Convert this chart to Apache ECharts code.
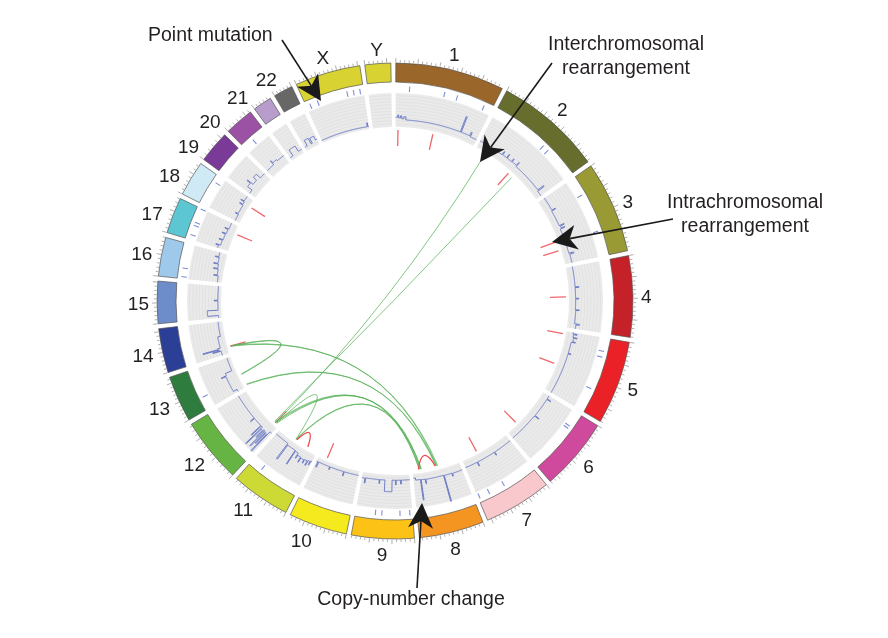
<!DOCTYPE html>
<html><head><meta charset="utf-8">
<script src="https://cdn.jsdelivr.net/npm/echarts@6/dist/echarts.min.js"></script>
<style>html,body{margin:0;padding:0;background:#fff}#c{width:888px;height:638px}</style>
</head><body><div id="c"></div>
<script>
// ---------------- DATA ----------------
const chromNames = ['1','2','3','4','5','6','7','8','9','10','11','12','13','14','15','16','17','18','19','20','21','22','X','Y'];
const chromLengthsMb = [249.25,243.2,198.0,191.15,180.9,171.1,159.1,146.4,141.2,135.5,135.0,133.85,115.2,107.35,102.5,90.35,81.2,78.1,59.1,63.0,48.1,51.3,155.3,59.4];

// copy-number segments: [chromosome, startMb, endMb, copy number]
const cnSegments = [
['1',0,6,2.4],['1',6,9,2.7],['1',9,14,2.3],['1',14,18,2.6],['1',18,24,2.2],['1',24,30,2.5],['1',30,196,2.05],['1',196,199,4.4],['1',199,226,2.05],['1',226,229,2.6],['1',229,249.25,1.95],
['2',0,76,2.05],['2',76,78,2.6],['2',78,92,2.1],['2',92,94,2.7],['2',94,110,2.1],['2',110,112,2.6],['2',112,128,2.15],['2',128,130,2.7],['2',130,224,2.0],['2',224,227,3.0],['2',227,243.2,1.85],
['3',0,40,2.05],['3',40,42,2.6],['3',42,88,1.95],['3',88,90,2.7],['3',90,96,2.1],['3',96,98,2.6],['3',98,170,1.9],['3',170,173,2.6],['3',173,198,2.0],
['4',0,63,1.95],['4',63,65,2.5],['4',65,98,1.95],['4',98,100,2.4],['4',100,133,1.95],['4',133,135,2.5],['4',135,176,2.0],['4',176,179,2.7],['4',179,191.15,2.2],
['5',0,4,2.0],['5',4,6,2.6],['5',6,14,2.1],['5',14,16,2.7],['5',16,26,2.2],['5',26,28,2.6],['5',28,60,2.0],['5',60,62,2.4],['5',62,180.9,2.0],
['6',0,11,2.0],['6',11,13,2.6],['6',13,74,2.0],['6',74,76,2.7],['6',76,78,2.1],['6',78,171.1,1.95],
['7',0,58,2.0],['7',58,60,2.5],['7',60,118,2.0],['7',118,120,2.6],['7',120,159.1,2.0],
['8',0,30,2.1],['8',30,32,2.5],['8',32,55,2.05],['8',55,57,5.85],['8',57,110,2.0],['8',110,112,2.6],['8',112,124,1.95],['8',124,126,4.85],['8',126,140,1.9],['8',140,146.4,1.6],
['9',0,25,1.75],['9',25,27,2.3],['9',27,40,1.75],['9',40,42,2.4],['9',42,52,1.75],['9',52,73,3.4],['9',73,88,1.75],['9',88,90,2.3],['9',90,130,1.75],['9',130,132,2.5],['9',132,141.2,1.8],
['10',0,45,1.6],['10',45,47,2.2],['10',47,90,1.6],['10',90,92,2.0],['10',92,128,1.6],['10',128,131,2.4],['10',131,135.5,1.6],
['11',0,4,2.0],['11',4,6,2.6],['11',6,12,2.1],['11',12,14,2.9],['11',14,22,2.2],['11',22,24,2.8],['11',24,34,2.3],['11',34,36,3.0],['11',36,46,2.2],['11',46,48,2.7],['11',48,58,1.9],['11',58,60,4.1],['11',60,87,1.8],['11',87,90,4.3],['11',90,135,1.6],
['12',0,6,2.0],['12',6,8,5.8],['12',8,11,2.6],['12',11,13,4.6],['12',13,16,2.5],['12',16,18,5.4],['12',18,21,2.4],['12',21,23,3.9],['12',23,27,2.6],['12',27,29,5.6],['12',29,33,2.3],['12',33,35,4.2],['12',35,60,2.3],['12',60,62,3.0],['12',62,133.85,2.3],
['13',0,8,2.0],['13',8,60,2.6],['13',60,62,3.3],['13',62,70,2.5],['13',70,115.2,1.5],
['14',0,14,2.0],['14',14,16,3.2],['14',16,19,2.2],['14',19,21,4.6],['14',21,24,2.4],['14',24,60,2.0],['14',60,107.35,1.6],
['15',0,8,1.45],['15',8,25,3.0],['15',25,55,1.45],['15',55,57,2.0],['15',57,102.5,1.45],
['16',0,20,1.65],['16',20,22,2.3],['16',22,40,1.8],['16',40,42,2.5],['16',42,55,1.9],['16',55,57,2.6],['16',57,75,2.0],['16',75,77,2.6],['16',77,90.35,2.1],
['17',0,8,2.6],['17',8,10,3.0],['17',10,25,2.3],['17',25,27,2.8],['17',27,45,2.2],['17',45,47,2.7],['17',47,60,2.1],['17',60,62,2.6],['17',62,81.2,2.0],
['18',0,20,1.7],['18',20,22,2.2],['18',22,50,1.8],['18',50,52,2.4],['18',52,60,1.9],['18',60,62,2.5],['18',62,78.1,2.0],
['19',0,10,2.0],['19',10,20,2.8],['19',20,22,3.4],['19',22,35,2.4],['19',35,45,3.0],['19',45,59.1,2.2],
['20',0,25,2.2],['20',25,27,2.9],['20',27,40,2.5],['20',40,63,2.3],
['21',0,12,1.5],['21',12,35,2.5],['21',35,48.1,1.6],
['22',0,10,1.6],['22',10,25,2.5],['22',25,30,1.6],['22',30,45,2.4],['22',45,51.3,1.8],
['X',0,150,1.35],['X',150,152,1.9],['X',152,155.3,1.35]
];

// point mutations: [chromosome, positionMb]
const pointMutations = [
['1',35],['1',124],['1',157],['1',228],['2',146],['2',162],['3',45],['3',138],
['5',32],['5',46],['5',125],['6',39],['6',46],['7',85],['7',128],['7',155],
['9',6.5],['9',31],['9',76],['9',92],['11',103],['13',35],['16',5],['16',27],
['17',12],['17',36],['17',44],['17',80],['18',61],['20',27.5],
['X',11],['X',32],['X',112],['X',129],['X',146]
];

// intrachromosomal rearrangements (short range): [chromosome, positionMb]
const intraMarks = [
['1',7.5],['1',118],['2',126],['3',128],['3',155],['4',93],['5',9],['5',101],
['6',131],['7',106],['10',109],['12',13],['14',21.5],['17',56],['18',57]
];

// intrachromosomal rearrangements (long range loops): [chrA, posA, chrB, posB]
const intraLinks = [
['8',74,'8',128],['11',33,'11',74]
];

// interchromosomal (and distant) rearrangements: [chrA, posA, chrB, posB]
const interLinks = [
['2',32.6,'12',12],['2',142.6,'12',17],
['14',20.5,'13',45],['14',22,'13',47],
['14',21,'8',66],['14',23,'8',69],
['13',6,'8',70],['13',8,'8',72],
['12',9,'8',118],['12',12,'8',121],['12',15,'8',124],
['11',76,'8',120],['11',78,'8',125],
['12',10,'11',77]
];

// ---------------- STYLE / LAYOUT ----------------
const chromColors = ['#9b6629','#676d2c','#9a9a35','#c42128','#ea2227','#cf4a9c','#f8c8cc','#f49521','#fcc316','#f5ea1e','#cdd935','#66b444','#2e7c3e','#2c3f97','#6c8dca','#9ec9ea','#5cc7d3','#cfeaf4','#7a3a97','#9b52a4','#b89ccc','#676767','#d8d233','#d8d233'];
// angular extent (degrees) each chromosome occupies on the ideogram
const chromArcDeg = [26.6,26.2,22.4,19.8,20.4,17.7,16.6,15.8,15.3,14.3,14.5,15.8,11.3,10.8,10.3,9.5,8.8,8.6,7.8,7.1,4.6,4.7,16.0,6.3];
const START_DEG = 0.2, GAP_DEG = 1.2, FULL = 360;
const CX = 395, CY = 301;
const R_MAX = 238, R_IDEO_IN = 219, R_IDEO_OUT = 238;
const R_MUT_IN = 209.5, R_MUT_OUT = 215;
const R_MARK_IN = 155, R_MARK_OUT = 171;
const R_LINK = 170;
const R_LABEL = 246, LABEL_DY = 2;
const TRACK_IN = 174, TRACK_OUT = 208;
const CN_MIN = 1, CN_MAX = 5.86;
const FONT = '"Liberation Sans", Arial, Helvetica, sans-serif';
const LABEL_FS = 19, ANNOT_FS = 19.5;
const TEXT_COLOR = '#231f20';
const LABEL_NUDGE_DEG = {'10':2.5, '11':1.6, '17':-1.2, '18':-1.7, '19':-3.4, '20':-4.8, '21':-3.7, '22':-2.0};

const startDeg = [];
let acc = START_DEG;
chromArcDeg.forEach(d => { startDeg.push(acc); acc += d + GAP_DEG; });
const idx = name => chromNames.indexOf(name);
const gposI = (i, mb) => startDeg[i] + mb / chromLengthsMb[i] * chromArcDeg[i];
const gpos = (name, mb) => gposI(idx(name), mb);
const midI = i => startDeg[i] + chromArcDeg[i] / 2;

function makeGeo(params, api, refR) {
  const cx = params.coordSys.cx, cy = params.coordSys.cy;
  return {
    cx, cy,
    pt: (r, a) => api.coord([r, a]),
    rad: r => { const p = api.coord([r, 0]); return Math.hypot(p[0] - cx, p[1] - cy); },
    ang: a => { const p = api.coord([refR, a]); return Math.atan2(p[1] - cy, p[0] - cx); }
  };
}
function span(g, a0, a1) {
  let s = g.ang(a0), e = g.ang(a1);
  while (e <= s) e += Math.PI * 2;
  return [s, e];
}
function radialLine(g, r0, r1, a, stroke, lw) {
  const p0 = g.pt(r0, a), p1 = g.pt(r1, a);
  return {type: 'line', shape: {x1: p0[0], y1: p0[1], x2: p1[0], y2: p1[1]}, style: {stroke, lineWidth: lw}};
}
function linkCurve(g, a, b, factor, stroke, lw) {
  let d = Math.abs(a - b);
  let mid = (a + b) / 2;
  if (d > FULL / 2) { d = FULL - d; mid = (mid + FULL / 2) % FULL; }
  const f = factor != null ? factor : Math.max(0, 0.47 - 0.0031 * d);
  const p0 = g.pt(R_LINK, a), p1 = g.pt(R_LINK, b), c = g.pt(R_LINK * f, mid);
  return {type: 'bezierCurve', shape: {x1: p0[0], y1: p0[1], x2: p1[0], y2: p1[1], cpx1: c[0], cpy1: c[1]},
          style: {stroke, lineWidth: lw, fill: null}};
}

const mctx = document.createElement('canvas').getContext('2d');
mctx.font = LABEL_FS + 'px ' + FONT;

const chart = echarts.init(document.getElementById('c'), null, {renderer: 'canvas'});
const angleAxisBase = {type: 'value', min: 0, max: FULL, startAngle: 90, clockwise: true, show: false};
const perChrom = r => chromNames.map((n, i) => [r, midI(i)]);

const option = {
  animation: false,
  backgroundColor: '#ffffff',
  polar: [
    {center: [CX, CY], radius: [0, R_MAX]},
    {center: [CX, CY], radius: [TRACK_IN, TRACK_OUT]}
  ],
  angleAxis: [Object.assign({polarIndex: 0}, angleAxisBase), Object.assign({polarIndex: 1}, angleAxisBase)],
  radiusAxis: [
    {polarIndex: 0, type: 'value', min: 0, max: R_MAX, show: false},
    {polarIndex: 1, type: 'value', min: CN_MIN, max: CN_MAX, show: false}
  ],
  series: [
    // copy-number track background + grid
    {type: 'custom', coordinateSystem: 'polar', polarIndex: 1, silent: true, clip: false, z: 1,
     data: perChrom(CN_MAX),
     renderItem: (params, api) => {
       const g = makeGeo(params, api, CN_MAX); const i = params.dataIndex;
       const [s, e] = span(g, startDeg[i], startDeg[i] + chromArcDeg[i]);
       const children = [{type: 'sector', shape: {cx: g.cx, cy: g.cy, r0: g.rad(CN_MIN), r: g.rad(CN_MAX), startAngle: s, endAngle: e, clockwise: true},
                          style: {fill: '#eaeaea'}}];
       for (let v = CN_MIN + 0.45; v < CN_MAX - 0.1; v += 0.45) {
         children.push({type: 'arc', shape: {cx: g.cx, cy: g.cy, r: g.rad(v), startAngle: s, endAngle: e, clockwise: true},
                        style: {stroke: '#dbdbdb', lineWidth: 0.6, fill: null}});
       }
       return {type: 'group', children};
     }},
    // copy-number line
    {type: 'custom', coordinateSystem: 'polar', polarIndex: 1, silent: true, clip: false, z: 3,
     data: perChrom(CN_MAX),
     renderItem: (params, api) => {
       const name = chromNames[params.dataIndex];
       const segs = cnSegments.filter(s => s[0] === name);
       if (!segs.length) return {type: 'group', children: []};
       const pts = [];
       segs.forEach(s => {
         const a0 = gpos(name, s[1]), a1 = gpos(name, s[2]);
         const n = Math.max(1, Math.ceil((s[2] - s[1]) / 1.5));
         for (let k = 0; k <= n; k++) pts.push(api.coord([s[3], a0 + (a1 - a0) * k / n]));
       });
       return {type: 'polyline', shape: {points: pts}, style: {stroke: '#5a6bbf', lineWidth: 0.85, fill: null}};
     }},
    // ideogram
    {type: 'custom', coordinateSystem: 'polar', polarIndex: 0, silent: true, clip: false, z: 4,
     data: perChrom(R_IDEO_OUT),
     renderItem: (params, api) => {
       const g = makeGeo(params, api, 100); const i = params.dataIndex;
       const [s, e] = span(g, startDeg[i], startDeg[i] + chromArcDeg[i]);
       return {type: 'sector', shape: {cx: g.cx, cy: g.cy, r0: g.rad(R_IDEO_IN), r: g.rad(R_IDEO_OUT), startAngle: s, endAngle: e, clockwise: true},
               style: {fill: chromColors[i], stroke: '#555555', lineWidth: 0.7}};
     }},
    // outer scale ticks (every 10 Mb)
    {type: 'custom', coordinateSystem: 'polar', polarIndex: 0, silent: true, clip: false, z: 4,
     data: perChrom(R_IDEO_OUT),
     renderItem: (params, api) => {
       const g = makeGeo(params, api, 100); const i = params.dataIndex;
       const children = [];
       for (let m = 0; m <= chromLengthsMb[i]; m += 10) {
         const major = m % 50 === 0;
         children.push(radialLine(g, R_IDEO_OUT + 0.5, R_IDEO_OUT + (major ? 5 : 3), gposI(i, m), '#8c8c8c', 0.7));
       }
       return {type: 'group', children};
     }},
    // chromosome labels
    {type: 'custom', coordinateSystem: 'polar', polarIndex: 0, silent: true, clip: false, z: 6,
     data: perChrom(R_LABEL),
     renderItem: (params, api) => {
       const g = makeGeo(params, api, 100); const i = params.dataIndex; const name = chromNames[i];
       const a = midI(i) + (LABEL_NUDGE_DEG[name] || 0);
       const th = g.ang(a); const ux = Math.cos(th), uy = Math.sin(th);
       const w = mctx.measureText(name).width, h = LABEL_FS * 0.72;
       const r = R_LABEL + Math.abs(ux) * w / 2 + Math.abs(uy) * h / 2;
       const p = g.pt(r, a);
       return {type: 'text', x: p[0], y: p[1] + LABEL_DY,
               style: {text: name, align: 'center', verticalAlign: 'middle', fontSize: LABEL_FS, fontFamily: FONT, fill: TEXT_COLOR}};
     }},
    // point mutations
    {type: 'custom', coordinateSystem: 'polar', polarIndex: 0, silent: true, clip: false, z: 5,
     data: pointMutations.map(m => [R_MUT_OUT, gpos(m[0], m[1])]),
     renderItem: (params, api) => {
       const g = makeGeo(params, api, 100); const m = pointMutations[params.dataIndex];
       return radialLine(g, R_MUT_IN, R_MUT_OUT, gpos(m[0], m[1]), '#7e8dd6', 1.1);
     }},
    // short intrachromosomal rearrangement marks
    {type: 'custom', coordinateSystem: 'polar', polarIndex: 0, silent: true, clip: false, z: 7,
     data: intraMarks.map(m => [R_MARK_OUT, gpos(m[0], m[1])]),
     renderItem: (params, api) => {
       const g = makeGeo(params, api, 100); const m = intraMarks[params.dataIndex];
       return radialLine(g, R_MARK_IN, R_MARK_OUT, gpos(m[0], m[1]), '#f0676b', 1.3);
     }},
    // interchromosomal links
    {type: 'custom', coordinateSystem: 'polar', polarIndex: 0, silent: true, clip: false, z: 8,
     data: interLinks.map(l => [R_LINK, gpos(l[0], l[1])]),
     renderItem: (params, api) => {
       const g = makeGeo(params, api, 100); const l = interLinks[params.dataIndex];
       return linkCurve(g, gpos(l[0], l[1]), gpos(l[2], l[3]), null, 'rgba(84,176,84,0.72)', 1);
     }},
    // intrachromosomal loops
    {type: 'custom', coordinateSystem: 'polar', polarIndex: 0, silent: true, clip: false, z: 9,
     data: intraLinks.map(l => [R_LINK, gpos(l[0], l[1])]),
     renderItem: (params, api) => {
       const g = makeGeo(params, api, 100); const l = intraLinks[params.dataIndex];
       return linkCurve(g, gpos(l[0], l[1]), gpos(l[2], l[3]), 0.85, '#ee4b4f', 1.3);
     }}
  ]
};

// ---------------- ANNOTATIONS ----------------
function arrowEls(x1, y1, x2, y2) {
  const dx = x2 - x1, dy = y2 - y1, L = Math.hypot(dx, dy), ux = dx / L, uy = dy / L, nx = -uy, ny = ux;
  const HL = 25, HW = 12.5, NOTCH = 18;
  const bx = x2 - ux * HL, by = y2 - uy * HL, qx = x2 - ux * NOTCH, qy = y2 - uy * NOTCH;
  return [
    {type: 'line', z: 100, shape: {x1, y1, x2: qx, y2: qy}, style: {stroke: '#1a1a1a', lineWidth: 1.6}},
    {type: 'polygon', z: 100, shape: {points: [[x2, y2], [bx + nx * HW, by + ny * HW], [qx, qy], [bx - nx * HW, by - ny * HW]]}, style: {fill: '#1a1a1a'}}
  ];
}
function annText(x, y, text, align) {
  return {type: 'text', z: 100, x, y, style: {text, align: align || 'center', verticalAlign: 'middle', fontSize: ANNOT_FS, fontFamily: FONT, fill: TEXT_COLOR}};
}
option.graphic = {elements: [
  annText(148, 36, 'Point mutation', 'left'),
  annText(626, 45, 'Interchromosomal'), annText(626, 69, 'rearrangement'),
  annText(745, 203, 'Intrachromosomal'), annText(745, 227, 'rearrangement'),
  annText(411, 600, 'Copy-number change'),
  ...arrowEls(282, 40, 321, 101),
  ...arrowEls(552, 63, 480, 162),
  ...arrowEls(673, 219, 552, 242),
  ...arrowEls(417, 588, 422, 503)
]};

chart.setOption(option);
</script>
</body></html>
